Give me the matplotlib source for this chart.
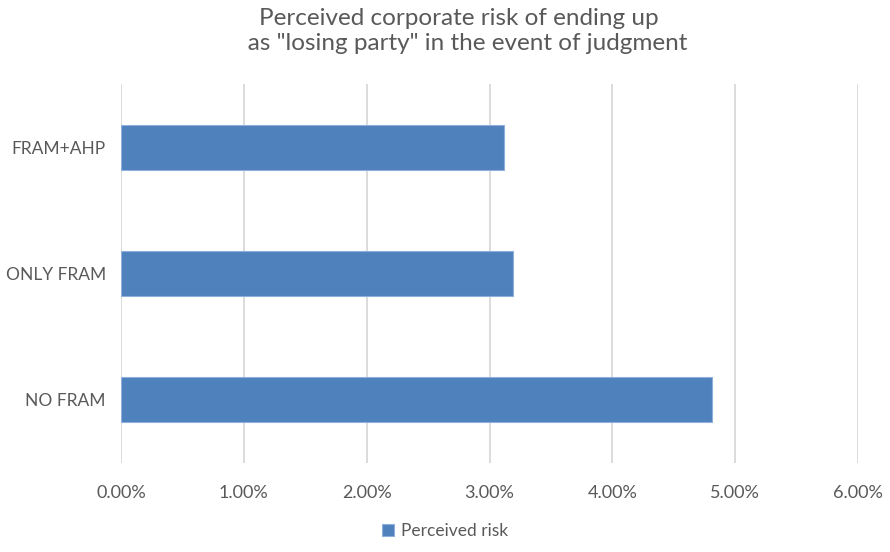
import matplotlib.pyplot as plt
from matplotlib.ticker import FuncFormatter

# -------------------------------
# Data
# -------------------------------
categories = ["NO FRAM", "ONLY FRAM", "FRAM+AHP"]
risk = [4.81, 3.19, 3.12]          # percent
series_name = "Perceived risk"
title = "Perceived corporate risk of ending up\n   as \"losing party\" in the event of judgment"

plt.rcParams["font.family"] = ["Lato", "DejaVu Sans"]
text_color = "#595959"
bar_color = "#4F81BD"

# -------------------------------
# Plot
# -------------------------------
fig = plt.figure(figsize=(8.9, 5.52), dpi=100)
ax = fig.add_axes([0.136, 0.161, 0.828, 0.687])

ax.barh(categories, risk, height=0.355, color=bar_color, edgecolor="#8FB0DA",
        linewidth=0.8, label=series_name, zorder=3)

ax.set_xlim(0, 6)
ax.set_ylim(-0.5, 2.5)
ax.set_xticks(range(0, 7))
ax.xaxis.set_major_formatter(FuncFormatter(lambda v, p: f"{v:.2f}%"))
ax.grid(axis="x", color="#D9D9D9", linewidth=1.3, zorder=0)
ax.tick_params(length=0, labelsize=12.5, labelcolor=text_color)
ax.tick_params(axis="x", pad=16, labelsize=13)
ax.tick_params(axis="y", pad=11)
for s in ax.spines.values():
    s.set_visible(False)

fig.text(0.515, 0.985, title, ha="center", va="top", fontsize=17.5,
         color=text_color, linespacing=1.2)

fig.legend(loc="lower center", bbox_to_anchor=(0.5, -0.005), frameon=False,
           fontsize=12.5, labelcolor=text_color, handlelength=0.7,
           handleheight=0.7, handletextpad=0.4)

fig.savefig("out.png", dpi=100)
